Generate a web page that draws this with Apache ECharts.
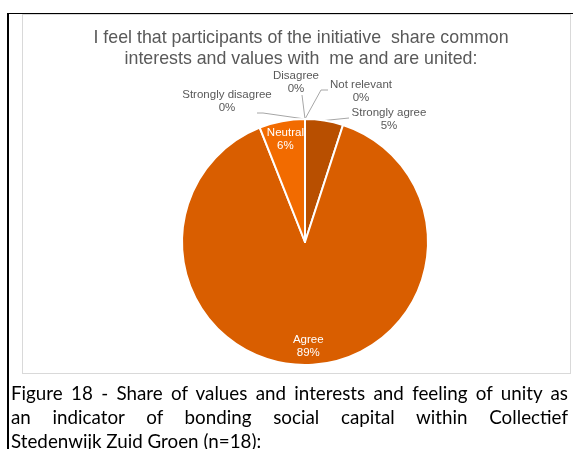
<!DOCTYPE html>
<html>
<head>
<meta charset="utf-8">
<script src="https://cdn.jsdelivr.net/npm/echarts@6/dist/echarts.min.js"></script>
<style>
  html, body { margin: 0; padding: 0; background: #fff; }
  body { width: 573px; height: 449px; position: relative; overflow: hidden; }
  #page-rule { position: absolute; left: 7px; top: 13px; width: 566px; height: 436px;
               border-top: 1.5px solid #000; border-left: 2px solid #000; box-sizing: border-box; }
  #frame { position: absolute; left: 22px; top: 14px; width: 549px; height: 360px;
           border: 1px solid #D9D9D9; box-sizing: border-box; }
  #chart { position: absolute; left: 0; top: 0; width: 573px; height: 449px; }
  #caption { position: absolute; left: 11px; top: 381px; width: 557px;
             font-family: Lato, "Open Sans", sans-serif; font-size: 18.8px; line-height: 24px; color: #000; }
  #caption div { white-space: nowrap; }
  #caption .j { text-align: justify; text-align-last: justify; white-space: normal; }
</style>
</head>
<body>
<div id="page-rule"></div>
<div id="frame"></div>
<div id="chart"></div>
<div id="caption">
  <div class="j">Figure 18 - Share of values and interests and feeling of unity as</div>
  <div class="j">an indicator of bonding social capital within Collectief</div>
  <div>Stedenwijk Zuid Groen (n=18):</div>
</div>
<script>
// Survey answers, percentage of respondents (clockwise from 12 o'clock)
const categories = ['Strongly agree', 'Agree', 'Neutral', 'Strongly disagree', 'Disagree', 'Not relevant'];
const shares = [5, 89, 6, 0, 0, 0];
const sliceColors = ['#B84F00', '#D95E00', '#F26B00', '#A5A5A5', '#7F7F7F', '#5B9BD5'];
const insideLabels = ['Agree', 'Neutral'];

const titleLines = ['I feel that participants of the initiative  share common', 'interests and values with  me and are united:'];

const CX = 305, CY = 242, R = 123;

// Placement of the callout labels and the bend of their leader lines
const calloutPos = {
  'Disagree':          { x: 296, y: 82,  line: [[302, 95]] },
  'Not relevant':      { x: 361, y: 91,  line: [[321, 90], [328, 90]] },
  'Strongly agree':    { x: 389, y: 119, line: [[349, 118]] },
  'Strongly disagree': { x: 227, y: 101, line: [[263, 113], [257, 113]] }
};

// Mid angle of each slice (radians, measured clockwise from 12 o'clock)
const total = shares.reduce((a, b) => a + b, 0);
const midAngles = [];
let acc = 0;
shares.forEach(v => { midAngles.push((acc + v / 2) / total * 2 * Math.PI); acc += v; });

const chart = echarts.init(document.getElementById('chart'), null, { renderer: 'canvas' });

chart.setOption({
  backgroundColor: 'transparent',
  animation: false,
  title: {
    text: titleLines.join('\n'),
    left: 296,
    top: 23,
    textAlign: 'center',
    textStyle: { fontFamily: 'Liberation Sans, Arial, sans-serif', fontSize: 17.8, fontWeight: 'normal',
                 color: '#595959', lineHeight: 20.5 }
  },
  series: [{
    type: 'pie',
    center: [CX, CY],
    radius: R,
    startAngle: 90,
    clockwise: true,
    percentPrecision: 0,
    avoidLabelOverlap: false,
    itemStyle: { borderColor: '#fff', borderWidth: 2 },
    label: {
      show: true,
      formatter: '{b}\n{d}%',
      fontFamily: 'Liberation Sans, Arial, sans-serif',
      fontSize: 11.5,
      lineHeight: 13,
      color: '#595959',
      align: 'center'
    },
    labelLine: { show: true, length: 10, length2: 10, lineStyle: { color: '#A6A6A6', width: 1 } },
    emphasis: { disabled: true },
    data: categories.map((name, i) => {
      const inside = insideLabels.indexOf(name) >= 0;
      return {
        name: name,
        value: shares[i],
        itemStyle: { color: sliceColors[i] },
        label: inside ? { position: 'inside', color: '#fff' } : { position: 'outside' },
        labelLine: { show: !inside }
      };
    }),
    labelLayout: function (params) {
      const idx = params.dataIndex;
      const name = categories[idx];
      if (insideLabels.indexOf(name) >= 0) {
        const a = midAngles[idx];
        const r = R * 0.85;
        return { x: CX + r * Math.sin(a), y: CY - r * Math.cos(a), align: 'center', verticalAlign: 'middle' };
      }
      const p = calloutPos[name];
      const start = params.labelLinePoints ? params.labelLinePoints[0] : [CX, CY - R];
      return {
        x: p.x, y: p.y, align: 'center', verticalAlign: 'middle',
        labelLinePoints: [start].concat(p.line)
      };
    }
  }]
});
</script>
</body>
</html>
